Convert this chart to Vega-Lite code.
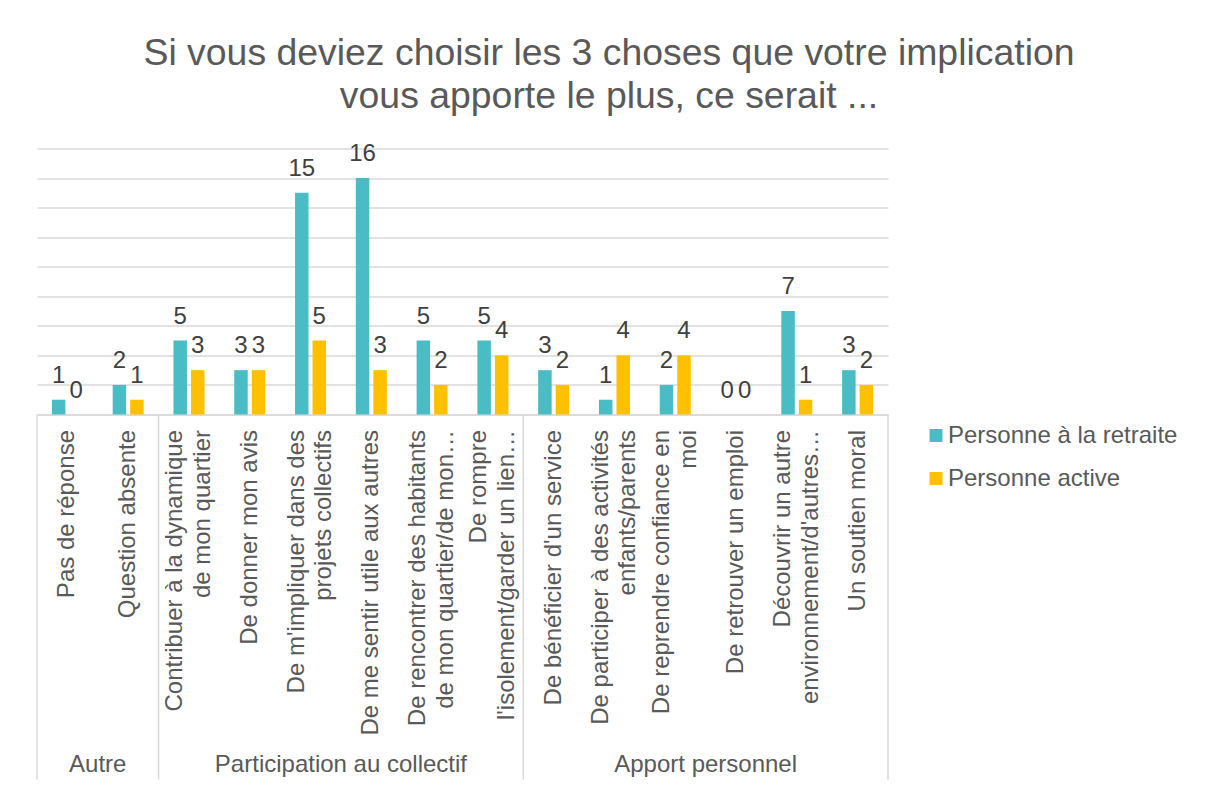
{
  "$schema": "https://vega.github.io/schema/vega-lite/v6.json",
  "autosize": {"type": "none"},
  "width": 851,
  "height": 266,
  "padding": {"left": 37, "top": 148.5, "right": 321, "bottom": 372.5},
  "background": "#ffffff",
  "title": {
    "text": ["Si vous deviez choisir les 3 choses que votre implication", "vous apporte le plus, ce serait ..."],
    "font": "Liberation Sans",
    "fontSize": 37.4,
    "fontWeight": "normal",
    "color": "#595959",
    "anchor": "middle",
    "frame": "group",
    "dx": 146.5,
    "baseline": "alphabetic",
    "lineHeight": 43,
    "offset": -3
  },
  "config": {
    "view": {"stroke": null},
    "font": "Liberation Sans"
  },
  "resolve": {"axis": {"x": "independent", "y": "independent"}},
  "datasets": {
    "main": [
      {"categorie": "Pas de réponse", "groupe": "Autre", "serie": "Personne à la retraite", "valeur": 1},
      {"categorie": "Pas de réponse", "groupe": "Autre", "serie": "Personne active", "valeur": 0},
      {"categorie": "Question absente", "groupe": "Autre", "serie": "Personne à la retraite", "valeur": 2},
      {"categorie": "Question absente", "groupe": "Autre", "serie": "Personne active", "valeur": 1},
      {"categorie": "Contribuer à la dynamique\nde mon quartier", "groupe": "Participation au collectif", "serie": "Personne à la retraite", "valeur": 5},
      {"categorie": "Contribuer à la dynamique\nde mon quartier", "groupe": "Participation au collectif", "serie": "Personne active", "valeur": 3},
      {"categorie": "De donner mon avis", "groupe": "Participation au collectif", "serie": "Personne à la retraite", "valeur": 3},
      {"categorie": "De donner mon avis", "groupe": "Participation au collectif", "serie": "Personne active", "valeur": 3},
      {"categorie": "De m'impliquer dans des\nprojets collectifs", "groupe": "Participation au collectif", "serie": "Personne à la retraite", "valeur": 15},
      {"categorie": "De m'impliquer dans des\nprojets collectifs", "groupe": "Participation au collectif", "serie": "Personne active", "valeur": 5},
      {"categorie": "De me sentir utile aux autres", "groupe": "Participation au collectif", "serie": "Personne à la retraite", "valeur": 16},
      {"categorie": "De me sentir utile aux autres", "groupe": "Participation au collectif", "serie": "Personne active", "valeur": 3},
      {"categorie": "De rencontrer des habitants\nde mon quartier/de mon…", "groupe": "Participation au collectif", "serie": "Personne à la retraite", "valeur": 5},
      {"categorie": "De rencontrer des habitants\nde mon quartier/de mon…", "groupe": "Participation au collectif", "serie": "Personne active", "valeur": 2},
      {"categorie": "De rompre\nl'isolement/garder un lien…", "groupe": "Participation au collectif", "serie": "Personne à la retraite", "valeur": 5},
      {"categorie": "De rompre\nl'isolement/garder un lien…", "groupe": "Participation au collectif", "serie": "Personne active", "valeur": 4},
      {"categorie": "De bénéficier d'un service", "groupe": "Apport personnel", "serie": "Personne à la retraite", "valeur": 3},
      {"categorie": "De bénéficier d'un service", "groupe": "Apport personnel", "serie": "Personne active", "valeur": 2},
      {"categorie": "De participer à des activités\nenfants/parents", "groupe": "Apport personnel", "serie": "Personne à la retraite", "valeur": 1},
      {"categorie": "De participer à des activités\nenfants/parents", "groupe": "Apport personnel", "serie": "Personne active", "valeur": 4},
      {"categorie": "De reprendre confiance en\nmoi", "groupe": "Apport personnel", "serie": "Personne à la retraite", "valeur": 2},
      {"categorie": "De reprendre confiance en\nmoi", "groupe": "Apport personnel", "serie": "Personne active", "valeur": 4},
      {"categorie": "De retrouver un emploi", "groupe": "Apport personnel", "serie": "Personne à la retraite", "valeur": 0},
      {"categorie": "De retrouver un emploi", "groupe": "Apport personnel", "serie": "Personne active", "valeur": 0},
      {"categorie": "Découvrir un autre\nenvironnement/d'autres…", "groupe": "Apport personnel", "serie": "Personne à la retraite", "valeur": 7},
      {"categorie": "Découvrir un autre\nenvironnement/d'autres…", "groupe": "Apport personnel", "serie": "Personne active", "valeur": 1},
      {"categorie": "Un soutien moral", "groupe": "Apport personnel", "serie": "Personne à la retraite", "valeur": 3},
      {"categorie": "Un soutien moral", "groupe": "Apport personnel", "serie": "Personne active", "valeur": 2}
    ],
    "groupes": [
      {"groupe": "Autre", "categorie": "Pas de réponse"},
      {"groupe": "Participation au collectif", "categorie": "De m'impliquer dans des\nprojets collectifs"},
      {"groupe": "Apport personnel", "categorie": "De reprendre confiance en\nmoi"}
    ],
    "debuts": [
      {"categorie": "Pas de réponse"},
      {"categorie": "Contribuer à la dynamique\nde mon quartier"},
      {"categorie": "De bénéficier d'un service"}
    ],
    "fin": [
      {"categorie": "Un soutien moral"}
    ]
  },
  "layer": [
    {
      "data": {"name": "main"},
      "mark": {"type": "bar"},
      "encoding": {
        "x": {
          "field": "categorie", "type": "nominal",
          "scale": {"domain": ["Pas de réponse", "Question absente", "Contribuer à la dynamique\nde mon quartier", "De donner mon avis", "De m'impliquer dans des\nprojets collectifs", "De me sentir utile aux autres", "De rencontrer des habitants\nde mon quartier/de mon…", "De rompre\nl'isolement/garder un lien…", "De bénéficier d'un service", "De participer à des activités\nenfants/parents", "De reprendre confiance en\nmoi", "De retrouver un emploi", "Découvrir un autre\nenvironnement/d'autres…", "Un soutien moral"], "paddingInner": 0, "paddingOuter": 0},
          "axis": {
            "title": null,
            "labelAngle": -90,
            "labelFont": "Liberation Sans",
            "labelFontSize": 24,
            "labelColor": "#595959",
            "labelPadding": 15,
            "labelLimit": 500,
            "labelLineHeight": 27.5,
            "labelOverlap": false,
            "labelBound": false,
            "labelExpr": "split(datum.label, '\\n')",
            "labelOffset": {"condition": {"test": "indexof(datum.value, '\\n') >= 0", "value": -13.75}, "value": 0},
            "ticks": false,
            "domain": true,
            "domainColor": "#D9D9D9",
            "domainWidth": 1.5,
            "grid": false,
            "zindex": 0
          }
        },
        "xOffset": {
          "field": "serie", "type": "nominal",
          "scale": {"domain": ["Personne à la retraite", "Personne active"], "paddingInner": 0.23, "paddingOuter": 0.85}
        },
        "y": {
          "field": "valeur", "type": "quantitative",
          "scale": {"domain": [0, 18], "nice": false},
          "axis": {
            "title": null,
            "labels": false,
            "ticks": false,
            "domain": false,
            "grid": true,
            "gridColor": "#D9D9D9",
            "gridWidth": 1.5,
            "values": [0, 2, 4, 6, 8, 10, 12, 14, 16, 18],
            "zindex": 0
          }
        },
        "color": {
          "field": "serie", "type": "nominal",
          "scale": {"domain": ["Personne à la retraite", "Personne active"], "range": ["#4ABCC6", "#FFC000"]},
          "legend": {
            "title": null,
            "orient": "none",
            "legendX": 887,
            "legendY": 275,
            "symbolType": "square",
            "symbolSize": 169,
            "symbolStrokeWidth": 0,
            "labelFont": "Liberation Sans",
            "labelFontSize": 24,
            "labelColor": "#595959",
            "labelOffset": 0,
            "labelLimit": 400,
            "rowPadding": 19,
            "padding": 0
          }
        }
      }
    },
    {
      "data": {"name": "main"},
      "mark": {"type": "text", "baseline": "alphabetic", "dy": -17, "fontSize": 24, "font": "Liberation Sans", "fill": "#404040"},
      "encoding": {
        "x": {"field": "categorie", "type": "nominal", "axis": null, "scale": {"domain": ["Pas de réponse", "Question absente", "Contribuer à la dynamique\nde mon quartier", "De donner mon avis", "De m'impliquer dans des\nprojets collectifs", "De me sentir utile aux autres", "De rencontrer des habitants\nde mon quartier/de mon…", "De rompre\nl'isolement/garder un lien…", "De bénéficier d'un service", "De participer à des activités\nenfants/parents", "De reprendre confiance en\nmoi", "De retrouver un emploi", "Découvrir un autre\nenvironnement/d'autres…", "Un soutien moral"], "paddingInner": 0, "paddingOuter": 0}},
        "xOffset": {"field": "serie", "type": "nominal", "scale": {"domain": ["Personne à la retraite", "Personne active"], "paddingInner": 0.23, "paddingOuter": 0.85}},
        "y": {"field": "valeur", "type": "quantitative", "axis": null, "scale": {"domain": [0, 18], "nice": false}},
        "text": {"field": "valeur", "type": "quantitative"}
      }
    },
    {
      "data": {"name": "debuts"},
      "mark": {"type": "rule", "stroke": "#D9D9D9", "strokeWidth": 1.5, "clip": false},
      "encoding": {
        "x": {"field": "categorie", "type": "nominal", "bandPosition": 0, "axis": null, "scale": {"domain": ["Pas de réponse", "Question absente", "Contribuer à la dynamique\nde mon quartier", "De donner mon avis", "De m'impliquer dans des\nprojets collectifs", "De me sentir utile aux autres", "De rencontrer des habitants\nde mon quartier/de mon…", "De rompre\nl'isolement/garder un lien…", "De bénéficier d'un service", "De participer à des activités\nenfants/parents", "De reprendre confiance en\nmoi", "De retrouver un emploi", "Découvrir un autre\nenvironnement/d'autres…", "Un soutien moral"], "paddingInner": 0, "paddingOuter": 0}},
        "y": {"datum": 0, "type": "quantitative", "axis": null, "scale": {"domain": [0, 18], "nice": false}},
        "y2": {"datum": -24.7}
      }
    },
    {
      "data": {"name": "fin"},
      "mark": {"type": "rule", "stroke": "#D9D9D9", "strokeWidth": 1.5, "clip": false},
      "encoding": {
        "x": {"field": "categorie", "type": "nominal", "bandPosition": 1, "axis": null, "scale": {"domain": ["Pas de réponse", "Question absente", "Contribuer à la dynamique\nde mon quartier", "De donner mon avis", "De m'impliquer dans des\nprojets collectifs", "De me sentir utile aux autres", "De rencontrer des habitants\nde mon quartier/de mon…", "De rompre\nl'isolement/garder un lien…", "De bénéficier d'un service", "De participer à des activités\nenfants/parents", "De reprendre confiance en\nmoi", "De retrouver un emploi", "Découvrir un autre\nenvironnement/d'autres…", "Un soutien moral"], "paddingInner": 0, "paddingOuter": 0}},
        "y": {"datum": 0, "type": "quantitative", "axis": null, "scale": {"domain": [0, 18], "nice": false}},
        "y2": {"datum": -24.7}
      }
    },
    {
      "data": {"name": "groupes"},
      "mark": {"type": "text", "baseline": "middle", "align": "center", "fontSize": 24, "font": "Liberation Sans", "fill": "#595959", "clip": false},
      "encoding": {
        "x": {"field": "categorie", "type": "nominal", "bandPosition": 1, "axis": null, "scale": {"domain": ["Pas de réponse", "Question absente", "Contribuer à la dynamique\nde mon quartier", "De donner mon avis", "De m'impliquer dans des\nprojets collectifs", "De me sentir utile aux autres", "De rencontrer des habitants\nde mon quartier/de mon…", "De rompre\nl'isolement/garder un lien…", "De bénéficier d'un service", "De participer à des activités\nenfants/parents", "De reprendre confiance en\nmoi", "De retrouver un emploi", "Découvrir un autre\nenvironnement/d'autres…", "Un soutien moral"], "paddingInner": 0, "paddingOuter": 0}},
        "y": {"datum": -23.7, "type": "quantitative", "axis": null, "scale": {"domain": [0, 18], "nice": false}},
        "text": {"field": "groupe", "type": "nominal"}
      }
    }
  ]
}
